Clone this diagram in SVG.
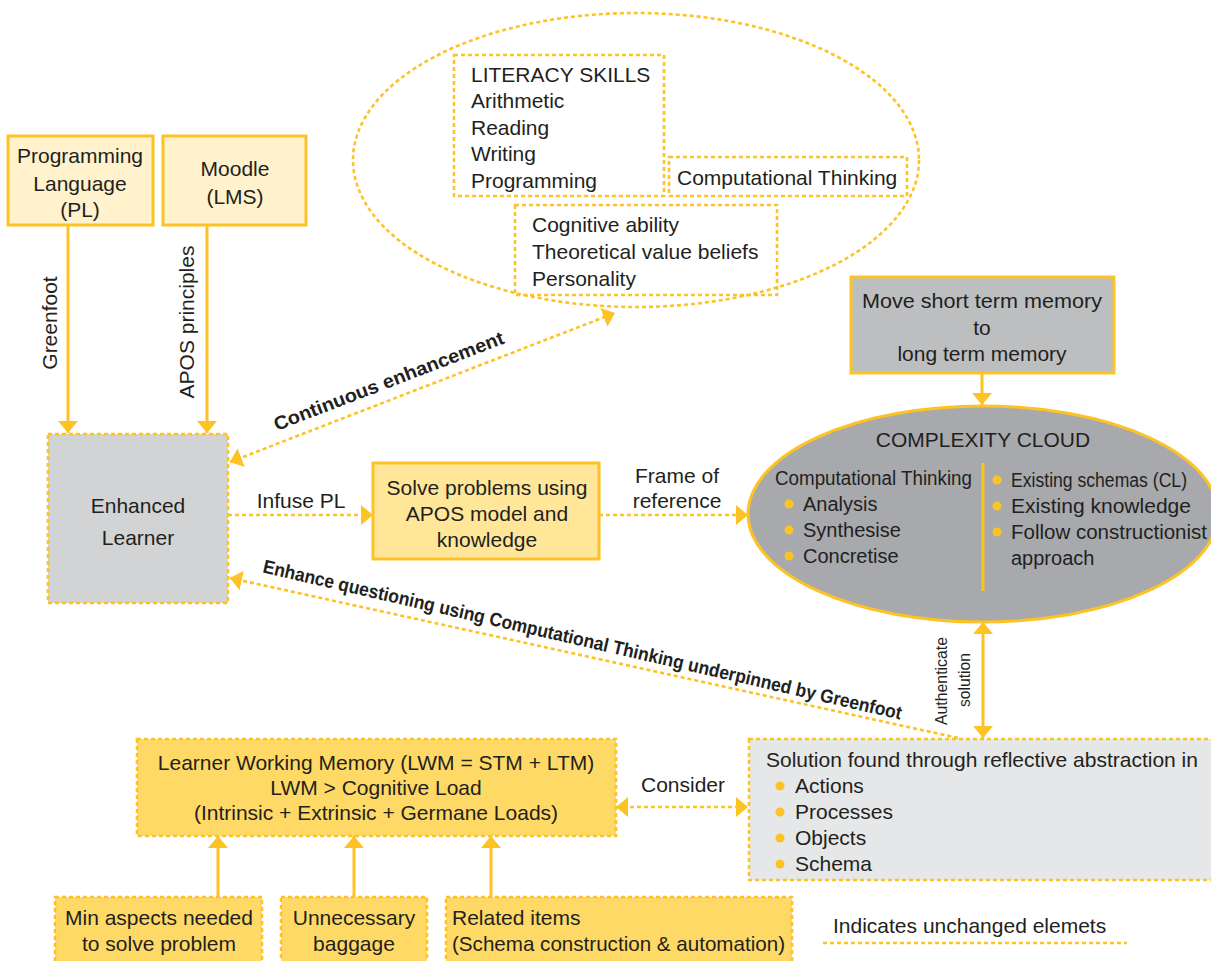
<svg xmlns="http://www.w3.org/2000/svg" width="1211" height="961" viewBox="0 0 1211 961">
<defs>
<style>
text{font-family:"Liberation Sans",Arial,sans-serif;fill:#231f20;font-size:21px}
.c{text-anchor:middle}
.b{font-weight:bold;font-size:19px}
.sm{font-size:17px}
.cl{font-size:20px}
.solid{stroke:#fdc325;stroke-width:3}
.dot{stroke:#fdc325;stroke-width:2.6;stroke-dasharray:4 3}
.ln{fill:none;stroke:#fdc325;stroke-width:3}
.dln{fill:none;stroke:#fdc325;stroke-width:2.6;stroke-dasharray:4 3}
.bul{fill:#fdc325}
</style>
<marker id="ah" markerUnits="userSpaceOnUse" markerWidth="13" markerHeight="22" refX="12" refY="11" orient="auto-start-reverse">
<path d="M0,1 L12,11 L0,21 Z" fill="#fdc325"/>
</marker>
</defs>
<rect width="1211" height="961" fill="#ffffff"/>

<g id="pl">
<rect x="8" y="136" width="145" height="89" fill="#fff2cc" class="solid"/>
<text x="80" y="163" class="c">Programming</text>
<text x="80" y="191" class="c">Language</text>
<text x="80" y="217" class="c">(PL)</text>
</g>

<g id="moodle">
<rect x="163" y="136" width="143" height="89" fill="#fff2cc" class="solid"/>
<text x="235" y="176" class="c">Moodle</text>
<text x="235" y="204" class="c">(LMS)</text>
</g>

<g id="skills">
<ellipse cx="636" cy="160" rx="283" ry="147" class="dln"/>
<rect x="454" y="55" width="210" height="141" class="dln"/>
<text x="471" y="82">LITERACY SKILLS</text>
<text x="471" y="108">Arithmetic</text>
<text x="471" y="135">Reading</text>
<text x="471" y="161">Writing</text>
<text x="471" y="188">Programming</text>
<rect x="669" y="157" width="238" height="39" class="dln"/>
<text x="677" y="185">Computational Thinking</text>
<rect x="515" y="205" width="262" height="90" class="dln"/>
<text x="532" y="232">Cognitive ability</text>
<text x="532" y="259">Theoretical value beliefs</text>
<text x="532" y="286">Personality</text>
</g>

<g id="move">
<rect x="851" y="277" width="263" height="96" fill="#bcbec0" class="solid"/>
<text x="982" y="308" class="c" textLength="240" lengthAdjust="spacingAndGlyphs">Move short term memory</text>
<text x="982" y="335" class="c">to</text>
<text x="982" y="361" class="c">long term memory</text>
</g>

<g id="learner">
<rect x="48" y="434" width="180" height="169" fill="#d1d3d4" class="dot"/>
<text x="138" y="513" class="c">Enhanced</text>
<text x="138" y="545" class="c">Learner</text>
</g>

<g id="solve">
<rect x="373" y="463" width="226" height="96" fill="#ffe699" class="solid"/>
<text x="487" y="495" class="c">Solve problems using</text>
<text x="487" y="521" class="c">APOS model and</text>
<text x="487" y="547" class="c">knowledge</text>
</g>

<g id="cloud">
<ellipse cx="983" cy="514" rx="235" ry="108" fill="#a7a9ac" class="solid"/>
<text x="983" y="447" class="c">COMPLEXITY CLOUD</text>
<line x1="983" y1="463" x2="983" y2="591" class="ln"/>
<text x="775" y="485" class="cl" textLength="197" lengthAdjust="spacingAndGlyphs">Computational Thinking</text>
<circle cx="789" cy="504" r="4.5" class="bul"/>
<text x="803" y="511" class="cl">Analysis</text>
<circle cx="789" cy="530" r="4.5" class="bul"/>
<text x="803" y="537" class="cl">Synthesise</text>
<circle cx="789" cy="556" r="4.5" class="bul"/>
<text x="803" y="563" class="cl">Concretise</text>
<circle cx="997" cy="480" r="4.5" class="bul"/>
<text x="1011" y="487" class="cl" textLength="176" lengthAdjust="spacingAndGlyphs">Existing schemas (CL)</text>
<circle cx="997" cy="506" r="4.5" class="bul"/>
<text x="1011" y="513" class="cl" textLength="180" lengthAdjust="spacingAndGlyphs">Existing knowledge</text>
<circle cx="997" cy="532" r="4.5" class="bul"/>
<text x="1011" y="539" class="cl" textLength="196" lengthAdjust="spacingAndGlyphs">Follow constructionist</text>
<text x="1011" y="565" class="cl">approach</text>
</g>

<g id="lwm">
<rect x="137" y="739" width="479" height="97" fill="#ffd966" class="dot"/>
<text x="376" y="770" class="c">Learner Working Memory (LWM = STM + LTM)</text>
<text x="376" y="795" class="c">LWM &gt; Cognitive Load</text>
<text x="376" y="820" class="c">(Intrinsic + Extrinsic + Germane Loads)</text>
</g>

<g id="solution">
<rect x="749" y="739" width="470" height="141" fill="#e6e7e8" class="dot"/>
<text x="766" y="767">Solution found through reflective abstraction in</text>
<circle cx="780" cy="786" r="4.5" class="bul"/>
<text x="795" y="793">Actions</text>
<circle cx="780" cy="812" r="4.5" class="bul"/>
<text x="795" y="819">Processes</text>
<circle cx="780" cy="838" r="4.5" class="bul"/>
<text x="795" y="845">Objects</text>
<circle cx="780" cy="864" r="4.5" class="bul"/>
<text x="795" y="871">Schema</text>
</g>

<g id="min">
<rect x="55" y="897" width="207" height="70" fill="#ffd966" class="dot"/>
<text x="159" y="925" class="c">Min aspects needed</text>
<text x="159" y="951" class="c">to solve problem</text>
</g>

<g id="baggage">
<rect x="281" y="897" width="146" height="70" fill="#ffd966" class="dot"/>
<text x="354" y="925" class="c">Unnecessary</text>
<text x="354" y="951" class="c">baggage</text>
</g>

<g id="related">
<rect x="446" y="897" width="346" height="70" fill="#ffd966" class="dot"/>
<text x="452" y="925">Related items</text>
<text x="452" y="951" textLength="333" lengthAdjust="spacingAndGlyphs">(Schema construction &amp; automation)</text>
</g>

<g id="legend">
<line x1="823" y1="943" x2="1127" y2="943" class="dln"/>
<text x="833" y="933">Indicates unchanged elemets</text>
</g>

<g id="connectors">
<line x1="68" y1="225" x2="68" y2="433" class="ln" marker-end="url(#ah)"/>
<line x1="207" y1="225" x2="207" y2="433" class="ln" marker-end="url(#ah)"/>
<line x1="228" y1="515" x2="373" y2="515" class="dln" marker-end="url(#ah)"/>
<line x1="599" y1="515" x2="748" y2="515" class="dln" marker-end="url(#ah)"/>
<line x1="982" y1="373" x2="982" y2="405" class="ln" marker-end="url(#ah)"/>
<line x1="230" y1="462" x2="615" y2="313" class="dln" marker-start="url(#ah)" marker-end="url(#ah)"/>
<line x1="958" y1="738" x2="230" y2="578" class="dln" marker-end="url(#ah)"/>
<line x1="983" y1="622" x2="983" y2="738" class="ln" marker-start="url(#ah)" marker-end="url(#ah)"/>
<line x1="616" y1="807" x2="748" y2="807" class="dln" marker-start="url(#ah)" marker-end="url(#ah)"/>
<line x1="218" y1="897" x2="218" y2="836" class="ln" marker-end="url(#ah)"/>
<line x1="354" y1="897" x2="354" y2="836" class="ln" marker-end="url(#ah)"/>
<line x1="491" y1="897" x2="491" y2="836" class="ln" marker-end="url(#ah)"/>
<text x="57" y="323" class="c" font-size="20" transform="rotate(-90 57 323)">Greenfoot</text>
<text x="194" y="322" class="c" font-size="20" transform="rotate(-90 194 322)">APOS principles</text>
<text x="301" y="508" class="c">Infuse PL</text>
<text x="677" y="483" class="c">Frame of</text>
<text x="677" y="508" class="c">reference</text>
<text x="391" y="387" class="c b" textLength="245" lengthAdjust="spacingAndGlyphs" transform="rotate(-21 391 387)">Continuous enhancement</text>
<text x="581" y="646" class="c b" textLength="655" lengthAdjust="spacingAndGlyphs" transform="rotate(13 581 646)">Enhance questioning using Computational Thinking underpinned by Greenfoot</text>
<text x="947" y="681" class="c sm" textLength="88" lengthAdjust="spacingAndGlyphs" transform="rotate(-90 947 681)">Authenticate</text>
<text x="970" y="680" class="c sm" textLength="54" lengthAdjust="spacingAndGlyphs" transform="rotate(-90 970 680)">solution</text>
<text x="683" y="792" class="c">Consider</text>
</g>
</svg>
